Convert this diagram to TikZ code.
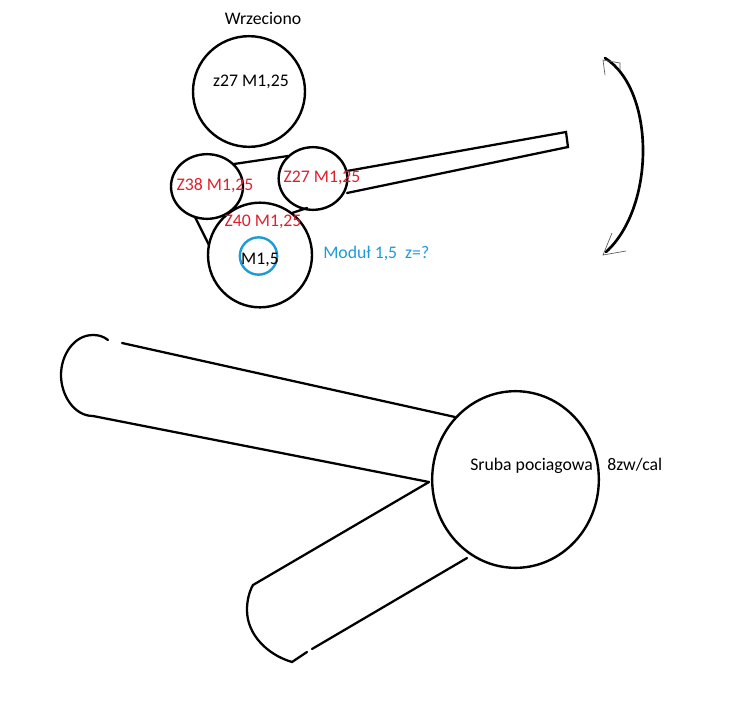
\documentclass[tikz,border=0pt]{standalone}
\usepackage{fontspec}
\setmainfont{Carlito}
\usetikzlibrary{shapes.geometric}
\definecolor{gearred}{RGB}{222,32,44}
\definecolor{gearblue}{RGB}{30,155,215}
\tikzset{
  gear/.style={draw=black,line width=1.8pt,shape=ellipse,inner sep=0pt},
  ln/.style={draw=black,line width=1.7pt,line cap=round},
  thin mark/.style={draw=black!65,line width=0.5pt},
  lab/.style={font=\fontsize{13.3pt}{15pt}\selectfont,inner sep=0pt,text=black},
  redlab/.style={lab,text=gearred},
  bluelab/.style={lab,text=gearblue},
}
\begin{document}
\begin{tikzpicture}[x=0.75pt,y=-0.75pt]
\useasboundingbox (0,0) rectangle (743,711);
% upper gears
\node[gear,minimum width=84pt,minimum height=83pt] (spindle) at (249,91.5) {};
\node[gear,minimum width=54pt,minimum height=48.5pt] (g38) at (207,186.5) {};
\node[gear,minimum width=51.5pt,minimum height=47pt] (g27) at (313,178.5) {};
\node[gear,minimum width=78pt,minimum height=78.5pt] (g40) at (260,255) {};
\node[draw=gearblue,line width=1.8pt,shape=circle,minimum size=28pt,inner sep=0pt] (hub) at (258.5,256) {};
% coordinates
\coordinate (a1) at (234,164); \coordinate (a2) at (288,156);
\coordinate (b1) at (195,217); \coordinate (b2) at (209,245);
\coordinate (c1) at (292,213); \coordinate (c2) at (307,208);
\coordinate (d1) at (347,171); \coordinate (d2) at (566,132);
\coordinate (d3) at (568,147); \coordinate (d4) at (347,193);
\draw[ln] (a1) -- (a2);
\draw[ln] (b1) -- (b2);
\draw[ln] (c1) -- (c2);
\draw[ln,line join=miter] (d1) -- (d2) -- (d3) -- (d4);
% swing arc
\coordinate (s1) at (605,58); \coordinate (s2) at (606,252);
\draw[ln,line width=2pt] (s1) .. controls (655.5,90) and (655.5,207) .. (s2);
\coordinate (t1) at (605,75); \coordinate (t2) at (603,60); \coordinate (t3) at (620,63); \coordinate (t4) at (620,70);
\draw[thin mark] (t1) -- (t2) -- (t3) -- (t4);
\coordinate (u1) at (612,233); \coordinate (u2) at (603,255); \coordinate (u3) at (626,251);
\draw[thin mark] (u1) -- (u2) -- (u3);
% lead screw gear
\node[gear,minimum width=125pt,minimum height=132.5pt] (screw) at (515.5,479.5) {};
\coordinate (p0) at (429,482);
\coordinate (e1) at (122,343); \coordinate (e2) at (455,417);
\coordinate (e3) at (108,340); \coordinate (e4) at (93,416);
\draw[ln] (e1) -- (e2);
\draw[ln] (e3) .. controls (103,336) and (98,335) .. (93,335)
   .. controls (74,335) and (61,355) .. (61,375)
   .. controls (61,395) and (74,416) .. (e4) -- (p0);
\coordinate (f1) at (253,585); \coordinate (f2) at (292,662);
\coordinate (f3) at (307,652); \coordinate (f4) at (312,649); \coordinate (f5) at (467,558);
\draw[ln] (p0) -- (f1) .. controls (249,592) and (247,601) .. (247,610)
   .. controls (247,635) and (268,655) .. (f2) -- (f3);
\draw[ln] (f4) -- (f5);
% labels
\node[lab] (t-wrz) at (263,18.5) {Wrzeciono};
\node[lab] (t-z27) at (251,82) {z27 M1,25};
\node[redlab] (t-z38) at (215,186) {Z38 M1,25};
\node[redlab] (t-r27) at (322,177.5) {Z27 M1,25};
\node[redlab] (t-z40) at (263,222) {Z40 M1,25};
\node[lab] (t-m15) at (260,260) {M1,5};
\node[bluelab,anchor=west] (t-mod) at (323,253) {Moduł 1,5\ \ z=?};
\node[lab,anchor=west] (t-sr) at (470,465.5) {Sruba pociagowa};
\node[lab,anchor=west] (t-8z) at (607,464.5) {8zw/cal};
\end{tikzpicture}
\end{document}
